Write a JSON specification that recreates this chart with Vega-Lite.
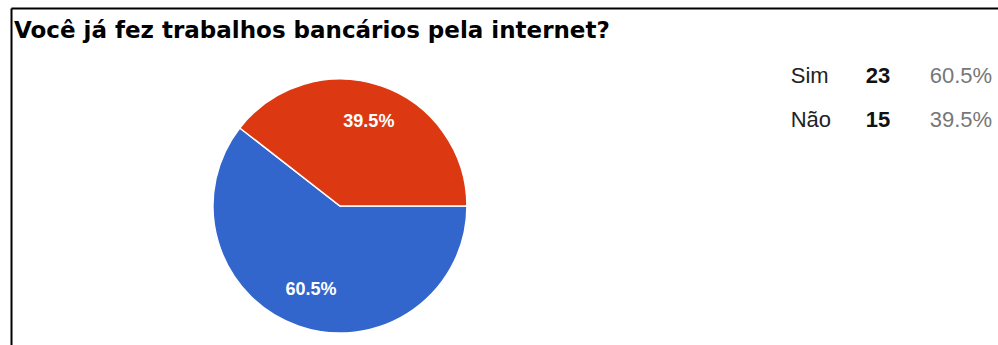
{
  "$schema": "https://vega.github.io/schema/vega-lite/v6.json",
  "autosize": {"type": "none"},
  "width": 987,
  "height": 337,
  "padding": {"left": 11, "top": 8, "right": 0, "bottom": 0},
  "background": "white",
  "title": {
    "text": "Você já fez trabalhos bancários pela internet?",
    "anchor": "start",
    "font": "DejaVu Sans",
    "fontSize": 23,
    "fontWeight": "bold",
    "color": "#000000",
    "baseline": "alphabetic",
    "offset": -25,
    "dy": 28,
    "dx": 3
  },
  "data": {
    "values": [
      {"Resposta": "Sim", "Quantidade": 23, "Percentual": "60.5%"},
      {"Resposta": "Não", "Quantidade": 15, "Percentual": "39.5%"}
    ]
  },
  "resolve": {"scale": {"y": "independent", "x": "shared"}, "axis": {"y": "independent"}},
  "layer": [
    {
      "encoding": {
        "x": {"datum": 0.3333, "type": "quantitative", "scale": {"domain": [0, 1]},
              "axis": {"orient": "top", "labels": false, "ticks": false, "grid": false, "title": null, "domain": true, "domainColor": "#000000", "domainWidth": 2}},
        "y": {"datum": 0.5875, "type": "quantitative", "scale": {"domain": [0, 1], "reverse": true},
              "axis": {"orient": "left", "labels": false, "ticks": false, "grid": false, "title": null, "domain": true, "domainColor": "#000000", "domainWidth": 2}},
        "theta": {"field": "Quantidade", "type": "quantitative", "stack": true, "scale": {"range": [1.5708, 7.8540]}},
        "order": {"field": "Quantidade", "sort": "descending"}
      },
      "layer": [
        {
          "mark": {"type": "arc", "outerRadius": 127, "stroke": "white", "strokeWidth": 1.5},
          "encoding": {
            "color": {"field": "Resposta", "type": "nominal", "scale": {"domain": ["Sim", "Não"], "range": ["#3366cc", "#dc3912"]}, "legend": null}
          }
        },
        {
          "mark": {"type": "text", "radius": 89, "font": "Liberation Sans", "fontSize": 18, "fontWeight": "bold", "color": "#ffffff", "align": "center", "baseline": "middle"},
          "encoding": {"text": {"field": "Percentual", "type": "nominal"}}
        }
      ]
    },
    {
      "encoding": {
        "y": {"field": "Resposta", "type": "nominal", "scale": {"type": "point", "padding": 0, "domain": ["Sim", "Não"], "range": [75, 119]}, "axis": null}
      },
      "layer": [
        {
          "mark": {"type": "text", "font": "Liberation Sans", "fontSize": 22, "color": "#222222", "align": "left", "baseline": "alphabetic"},
          "encoding": {
            "x": {"datum": 0.790, "type": "quantitative", "axis": {"orient": "top", "labels": false, "ticks": false, "grid": false, "title": null, "domain": true, "domainColor": "#000000", "domainWidth": 2}},
            "text": {"field": "Resposta", "type": "nominal"}
          }
        },
        {
          "mark": {"type": "text", "font": "Liberation Sans", "fontSize": 22, "fontWeight": "bold", "color": "#111111", "align": "left", "baseline": "alphabetic"},
          "encoding": {
            "x": {"datum": 0.866, "type": "quantitative", "axis": {"orient": "top", "labels": false, "ticks": false, "grid": false, "title": null, "domain": true, "domainColor": "#000000", "domainWidth": 2}},
            "text": {"field": "Quantidade", "type": "quantitative"}
          }
        },
        {
          "mark": {"type": "text", "font": "Liberation Sans", "fontSize": 22, "color": "#777777", "align": "right", "baseline": "alphabetic"},
          "encoding": {
            "x": {"datum": 0.994, "type": "quantitative", "axis": {"orient": "top", "labels": false, "ticks": false, "grid": false, "title": null, "domain": true, "domainColor": "#000000", "domainWidth": 2}},
            "text": {"field": "Percentual", "type": "nominal"}
          }
        }
      ]
    }
  ],
  "config": {"view": {"stroke": null}}
}
